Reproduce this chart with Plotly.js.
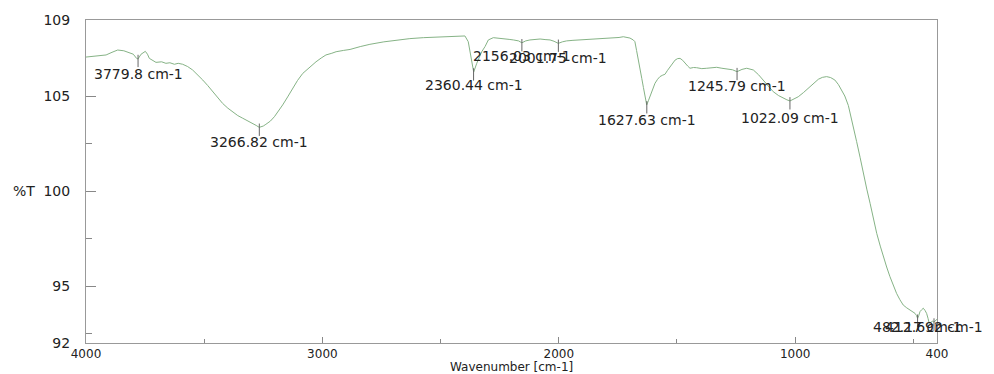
<!DOCTYPE html>
<html>
<head>
<meta charset="utf-8">
<script src="https://cdn.plot.ly/plotly-3.0.1.min.js"></script>
<style>html,body{margin:0;padding:0;background:#fff;}#chart{width:994px;height:374px;}</style>
</head>
<body>
<div id="chart"></div>
<script>
// Spectrum (wavenumber, %T)
var wavenumber = [4000,3960,3915,3890,3866,3840,3817,3800,3786,3780,3767,3749,3740,3732,3704,3680,3662,3645,3626,3610,3591,3570,3549,3528,3506,3485,3464,3443,3422,3400,3379,3358,3337,3316,3295,3280,3267,3250,3239,3220,3203,3185,3168,3147,3126,3105,3083,3055,3027,3005,2985,2960,2942,2910,2883,2840,2799,2740,2686,2630,2573,2520,2474,2430,2397,2383,2368,2360,2347,2326,2312,2298,2277,2255,2235,2210,2192,2170,2156,2140,2122,2100,2079,2058,2037,2020,2002,1985,1967,1940,1910,1875,1840,1800,1769,1745,1727,1710,1699,1685,1678,1671,1664,1656,1649,1642,1635,1628,1621,1614,1603,1593,1582,1572,1560,1551,1540,1530,1519,1508,1497,1487,1476,1466,1455,1445,1430,1417,1395,1374,1352,1332,1310,1290,1265,1246,1225,1205,1190,1177,1155,1135,1115,1093,1070,1050,1035,1022,1005,987,965,944,922,902,885,867,850,832,817,803,790,775,760,740,725,712,697,683,670,655,640,627,613,599,585,571,557,543,528,514,503,493,487,482,477,472,465,458,451,444,438,433,425,418,413,405,400];
var transmittance = [107.05,107.1,107.16,107.3,107.42,107.38,107.3,107.2,106.98,106.95,107.2,107.35,107.2,106.98,106.77,106.8,106.72,106.75,106.67,106.72,106.67,106.55,106.37,106.12,105.84,105.55,105.23,104.92,104.61,104.36,104.14,103.97,103.83,103.7,103.56,103.45,103.35,103.42,103.51,103.68,103.91,104.2,104.53,104.95,105.4,105.82,106.19,106.52,106.8,107.0,107.16,107.25,107.33,107.4,107.45,107.6,107.72,107.85,107.95,108.02,108.07,108.1,108.12,108.14,108.16,107.86,106.8,106.26,106.72,107.33,107.6,107.95,108.07,108.05,108.03,107.98,107.95,107.9,107.8,107.9,107.95,107.98,108.0,107.97,107.95,107.88,107.77,107.85,107.9,107.93,107.95,107.97,108.0,108.01,108.03,108.08,108.12,108.08,108.05,107.95,107.86,107.4,106.98,106.45,105.93,105.45,104.96,104.53,104.75,104.96,105.3,105.67,105.88,106.02,106.1,106.14,106.35,106.54,106.75,106.89,106.97,106.98,106.88,106.72,106.58,106.46,106.5,106.49,106.44,106.46,106.5,106.51,106.46,106.42,106.38,106.28,106.4,106.46,106.42,106.37,106.12,105.84,105.52,105.23,105.02,104.88,104.8,104.74,104.83,104.96,105.18,105.4,105.65,105.88,105.98,106.02,105.97,105.84,105.6,105.32,105.0,104.5,103.75,102.6,101.75,100.93,100.1,99.35,98.6,97.77,97.1,96.54,96.0,95.49,95.0,94.61,94.28,94.0,93.85,93.74,93.65,93.56,93.45,93.3,93.45,93.65,93.75,93.83,93.72,93.56,93.3,93.04,93.1,93.15,93.1,93.2,93.25];

// Peak picks
var peakWn = [3779.8, 3266.82, 2360.44, 2156.03, 2001.75, 1627.63, 1245.79, 1022.09, 482.17, 412.692];
var peakT = [106.97, 103.35, 106.26, 107.8, 107.77, 104.53, 106.28, 104.74, 93.3, 93.1];
var peakLabels = ["3779.8 cm-1", "3266.82 cm-1", "2360.44 cm-1", "2156.03 cm-1", "2001.75 cm-1", "1627.63 cm-1", "1245.79 cm-1", "1022.09 cm-1", "482.17 cm-1", "412.692 cm-1"];

// Axis ticks
var xTickVals = [4000, 3000, 2000, 1000, 400];
var xTickText = ["4000", "3000", "2000", "1000", "400"];
var xMinorVals = [3500, 2500, 1500, 500];
var yTickVals = [92, 95, 100, 105, 109];
var yTickText = ["92", "95", "100", "105", "109"];
var yMinorVals = [92.5, 97.5, 102.5];

// label offsets (px, style only)
var labelShift = [-15, -15, -13, -13, -15, -15, -14, -17, -9, -5];

var FONT = "DejaVu Sans, Liberation Sans, Arial, sans-serif";
var TXT = "#222";

// peak marker segments built from the peak arrays
var mx = [], my = [];
for (var i = 0; i < peakWn.length; i++) {
  mx.push(peakWn[i], peakWn[i], null);
  my.push(peakT[i] + 0.2, peakT[i] - 0.45, null);
}

var traces = [
  {x: wavenumber, y: transmittance, type: "scatter", mode: "lines",
   line: {color: "#86b386", width: 1}, hoverinfo: "skip", showlegend: false},
  {x: mx, y: my, type: "scatter", mode: "lines",
   line: {color: "#666", width: 1}, hoverinfo: "skip", showlegend: false}
];

var annotations = [];
for (var j = 0; j < peakWn.length; j++) {
  annotations.push({x: peakWn[j], y: peakT[j], xref: "x", yref: "y", text: peakLabels[j],
    showarrow: false, xanchor: "center", yanchor: "middle", yshift: labelShift[j],
    font: {family: FONT, size: 14, color: TXT}});
}
annotations.push({xref: "paper", yref: "paper", x: 0.5, y: -0.074, text: "Wavenumber [cm-1]",
  showarrow: false, xanchor: "center", yanchor: "middle", font: {family: FONT, size: 12, color: TXT}});
annotations.push({xref: "paper", yref: "paper", x: -0.073, y: 0.47, text: "%T",
  showarrow: false, xanchor: "center", yanchor: "middle", font: {family: FONT, size: 14, color: TXT}});

var layout = {
  width: 994, height: 374,
  margin: {l: 86, r: 57, t: 20, b: 31},
  paper_bgcolor: "#fff", plot_bgcolor: "#fff",
  showlegend: false,
  xaxis: {
    range: [4000, 400], autorange: false,
    tickmode: "array", tickvals: xTickVals, ticktext: xTickText,
    ticks: "inside", ticklen: 6, tickcolor: "#888", tickwidth: 1,
    minor: {tickmode: "array", tickvals: xMinorVals, ticks: "inside", ticklen: 4, tickcolor: "#888", showgrid: false},
    showline: true, linecolor: "#999", linewidth: 1, mirror: true,
    showgrid: false, zeroline: false,
    ticklabelstandoff: 0,
    tickfont: {family: FONT, size: 12, color: TXT}
  },
  yaxis: {
    range: [92, 109], autorange: false,
    tickmode: "array", tickvals: yTickVals, ticktext: yTickText,
    ticks: "inside", ticklen: 10, tickcolor: "#888", tickwidth: 1,
    minor: {tickmode: "array", tickvals: yMinorVals, ticks: "inside", ticklen: 6, tickcolor: "#888", showgrid: false},
    showline: true, linecolor: "#999", linewidth: 1, mirror: true,
    showgrid: false, zeroline: false,
    ticklabelstandoff: 12,
    tickfont: {family: FONT, size: 14, color: TXT}
  },
  annotations: annotations
};

Plotly.newPlot("chart", traces, layout, {staticPlot: true, displayModeBar: false});
</script>
</body>
</html>
